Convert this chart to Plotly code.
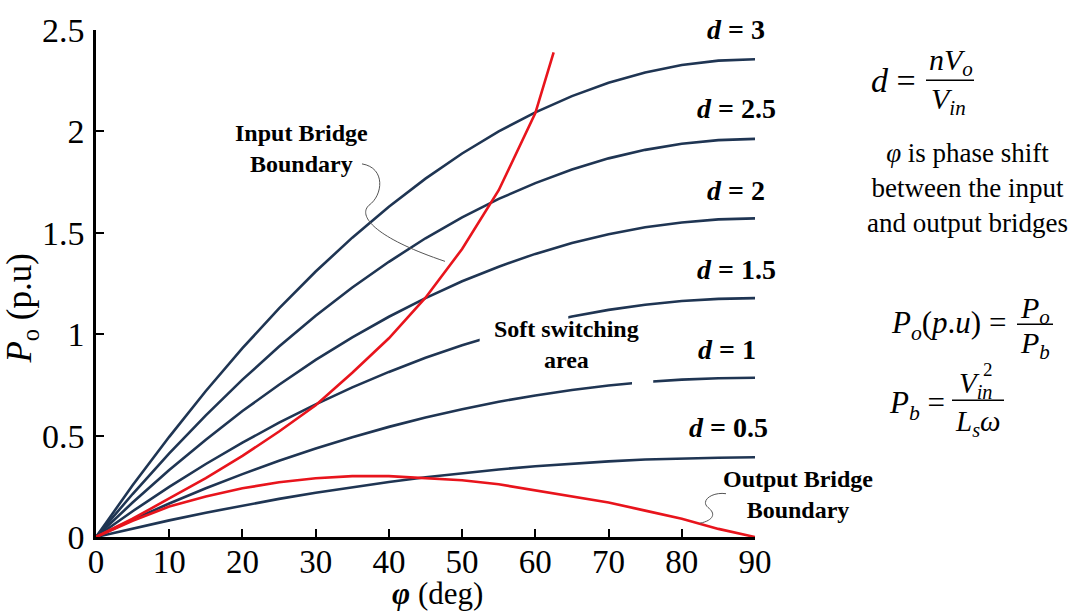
import plotly.graph_objects as go

# Phase shift (deg) and output power (p.u.) for each voltage ratio d
phi_deg = [0, 5, 10, 15, 20, 25, 30, 35, 40, 45, 50, 55, 60, 65, 70, 75, 80, 85, 90]
p_d05 = [0, 0.042, 0.082, 0.120, 0.155, 0.188, 0.218, 0.246, 0.271, 0.295, 0.315, 0.333, 0.349,
         0.362, 0.373, 0.382, 0.388, 0.391, 0.393]
p_d1 = [0, 0.085, 0.165, 0.240, 0.310, 0.376, 0.436, 0.492, 0.543, 0.589, 0.630, 0.667, 0.698,
        0.725, 0.747, 0.764, 0.776, 0.783, 0.785]
p_d15 = [0, 0.127, 0.247, 0.360, 0.465, 0.564, 0.654, 0.738, 0.814, 0.884, 0.945, 1.000, 1.047,
         1.087, 1.120, 1.145, 1.164, 1.174, 1.178]
p_d2 = [0, 0.170, 0.330, 0.480, 0.621, 0.751, 0.873, 0.984, 1.086, 1.178, 1.261, 1.333, 1.396,
        1.450, 1.493, 1.527, 1.551, 1.566, 1.571]
p_d25 = [0, 0.212, 0.412, 0.600, 0.776, 0.939, 1.091, 1.230, 1.357, 1.473, 1.576, 1.667, 1.745,
         1.812, 1.867, 1.909, 1.939, 1.957, 1.963]
p_d3 = [0, 0.255, 0.494, 0.720, 0.931, 1.127, 1.309, 1.476, 1.629, 1.767, 1.891, 2.000, 2.094,
        2.174, 2.240, 2.291, 2.327, 2.349, 2.356]
d_labels = ["0.5", "1", "1.5", "2", "2.5", "3"]

# Soft-switching boundaries
in_phi = [0, 5, 10, 15, 20, 25, 30, 35, 40, 45, 50, 55, 60, 62.5]
in_p = [0, 0.09, 0.19, 0.29, 0.40, 0.52, 0.65, 0.81, 0.98, 1.18, 1.42, 1.71, 2.09, 2.39]
out_p = [0, 0.08, 0.15, 0.20, 0.24, 0.27, 0.29, 0.30, 0.30, 0.29, 0.28, 0.26, 0.23, 0.20, 0.17,
         0.13, 0.09, 0.04, 0]

x_ticks = [0, 10, 20, 30, 40, 50, 60, 70, 80, 90]
y_ticks = [0, 0.5, 1, 1.5, 2, 2.5]
y_tick_text = ["0", "0.5", "1", "1.5", "2", "2.5"]

W, H = 1075, 612
L, R, T, B = 96, 320, 22, 75
PW, PH = W - L - R, H - T - B
NAVY = "#1f3553"
RED = "#e8141c"
SERIF = "Liberation Serif"


def px(x):
    return (x - L) / PW


def py(y):
    return (H - B - y) / PH


fig = go.Figure()

for vals in [p_d05, p_d1, p_d15, p_d2, p_d25, p_d3]:
    fig.add_trace(go.Scatter(x=phi_deg, y=vals, mode="lines",
                             line=dict(color=NAVY, width=2.6), hoverinfo="skip"))

fig.add_trace(go.Scatter(x=in_phi, y=in_p, mode="lines",
                         line=dict(color=RED, width=2.6), hoverinfo="skip"))
fig.add_trace(go.Scatter(x=phi_deg, y=out_p, mode="lines",
                         line=dict(color=RED, width=2.6), hoverinfo="skip"))

shapes = []
# white patches where labels interrupt curves
shapes.append(dict(type="rect", xref="x", yref="y", x0=52.4, x1=64.5, y0=0.90, y1=1.12,
                   fillcolor="white", line=dict(width=0), layer="above"))
shapes.append(dict(type="rect", xref="x", yref="y", x0=73.2, x1=76.1, y0=0.70, y1=0.82,
                   fillcolor="white", line=dict(width=0), layer="above"))


def pix_path(cmds):
    out = []
    for c in cmds:
        if isinstance(c, str):
            out.append(c)
        else:
            out.append(f"{px(c[0]):.5f},{py(c[1]):.5f}")
    return " ".join(out)


# leader curves
shapes.append(dict(type="path", xref="paper", yref="paper",
                   path=pix_path(["M", (362, 158), "C", (386, 162), (383, 190), (369, 200),
                                  "C", (358, 210), (372, 232), (445, 257)]),
                   line=dict(color="#555555", width=1)))
shapes.append(dict(type="path", xref="paper", yref="paper",
                   path=pix_path(["M", (726, 493), "C", (712, 491), (700, 500), (708, 507),
                                  "C", (716, 513), (714, 520), (700, 523)]),
                   line=dict(color="#555555", width=1)))

# fraction bars
for (x0, x1, y) in [(926, 974, 73), (1017, 1053, 321), (952, 1004, 398)]:
    shapes.append(dict(type="line", xref="paper", yref="paper",
                       x0=px(x0), x1=px(x1), y0=py(y), y1=py(y),
                       line=dict(color="black", width=1.5)))

ann = []


def text(x, y, s, size, xanchor="center"):
    ann.append(dict(x=px(x), y=py(y), xref="paper", yref="paper", text=s, showarrow=False,
                    xanchor=xanchor, yanchor="middle",
                    font=dict(family=SERIF, size=size, color="black")))


# curve labels
d_pos = [(728, 426), (727, 347), (736, 265), (736, 185), (736, 102), (736, 21)]
for lab, (x, y) in zip(d_labels, d_pos):
    text(x, y, f"<b><i>d</i> = {lab}</b>", 28)

text(301, 142, "<b>Input Bridge<br>Boundary</b>", 24)
text(566, 341, "<b>Soft switching<br>area</b>", 24)
text(798, 494, "<b>Output Bridge<br>Boundary</b>", 24)

# axis titles
ann.append(dict(x=px(22), y=py(305), xref="paper", yref="paper", showarrow=False,
                xanchor="center", yanchor="middle",
                text="<i>P</i><sub>o</sub> (p.u)", textangle=-90,
                font=dict(family=SERIF, size=35, color="black")))
text(437, 594, "<b><i>φ</i></b> (deg)", 31)

# side notes
text(893, 73, "<i>d</i> =", 34)
text(951, 54, "<i>nV</i><sub><i>o</i></sub>", 30)
text(949, 94, "<i>V</i><sub><i>in</i></sub>", 30)
text(967, 182, "<i>φ</i> is phase shift<br>between the input<br>and output bridges", 27)
text(949, 322, "<i>P</i><sub><i>o</i></sub>(<i>p</i>.<i>u</i>) =", 31)
text(1035, 306, "<i>P</i><sub><i>o</i></sub>", 30)
text(1035, 342, "<i>P</i><sub><i>b</i></sub>", 30)
text(917, 403, "<i>P</i><sub><i>b</i></sub> =", 31)
text(976, 383, "<i>V</i><sub><i>in</i></sub>", 29)
text(988, 367, "2", 19)
text(978, 421, "<i>L</i><sub><i>s</i></sub><i>ω</i>", 29)

fig.update_layout(
    width=W, height=H, autosize=False,
    margin=dict(l=L, r=R, t=T, b=B),
    paper_bgcolor="white", plot_bgcolor="white",
    showlegend=False,
    shapes=shapes, annotations=ann,
    xaxis=dict(range=[0, 90], tickvals=x_ticks, ticks="inside", ticklen=8, tickwidth=2,
               tickcolor="black", showline=True, linecolor="black", linewidth=2.5,
               showgrid=False, zeroline=False, ticklabelstandoff=-6,
               tickfont=dict(family=SERIF, size=33, color="black")),
    yaxis=dict(range=[0, 2.5], tickvals=y_ticks, ticktext=y_tick_text, ticks="inside",
               ticklen=8, tickwidth=2, tickcolor="black", showline=True, linecolor="black",
               linewidth=2.5, showgrid=False, zeroline=False, ticklabelstandoff=2,
               tickfont=dict(family=SERIF, size=34, color="black")),
)

fig.write_html("out.html")
